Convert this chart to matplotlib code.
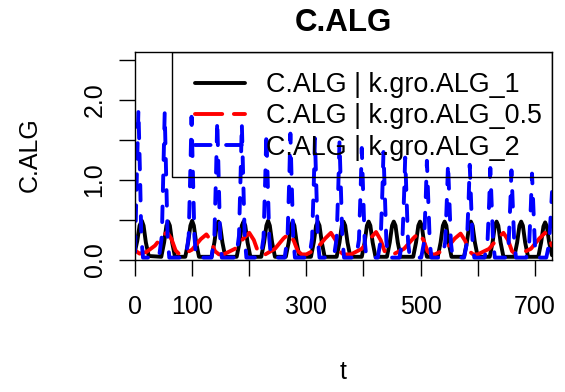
import matplotlib
matplotlib.use("Agg")
import matplotlib.pyplot as plt
from matplotlib.patches import Rectangle

plt.rcParams['font.family'] = ['Liberation Sans', 'DejaVu Sans']

# C.ALG time series for three algal growth rates
t_k1 = [0, 4, 8, 12, 15, 19, 24,
        46, 51, 55, 58, 61, 65, 70,
        88, 93, 97, 100, 103, 107, 112,
        134, 139, 143, 146, 149, 153, 158,
        178, 183, 187, 190, 193, 197, 202,
        221, 226, 230, 233, 236, 240, 245,
        264, 269, 273, 276, 279, 283, 288,
        308, 313, 317, 320, 323, 327, 332,
        353, 358, 362, 365, 368, 372, 377,
        397, 402, 406, 409, 412, 416, 421,
        441, 446, 450, 453, 456, 460, 465,
        487, 492, 496, 499, 502, 506, 511,
        530, 535, 539, 542, 545, 549, 554,
        576, 581, 585, 588, 591, 595, 600,
        621, 626, 630, 633, 636, 640, 645,
        664, 669, 673, 676, 679, 683, 688,
        706, 711, 715, 718, 721, 725, 730]
c_k1 = [0.11, 0.24, 0.43, 0.49, 0.43, 0.22, 0.05,
        0.04, 0.22, 0.43, 0.48, 0.43, 0.22, 0.04,
        0.04, 0.22, 0.43, 0.49, 0.43, 0.22, 0.04,
        0.04, 0.22, 0.43, 0.48, 0.43, 0.22, 0.04,
        0.04, 0.22, 0.43, 0.48, 0.43, 0.22, 0.04,
        0.04, 0.22, 0.43, 0.49, 0.43, 0.22, 0.04,
        0.04, 0.22, 0.43, 0.48, 0.43, 0.22, 0.04,
        0.04, 0.22, 0.43, 0.48, 0.43, 0.22, 0.04,
        0.04, 0.22, 0.43, 0.48, 0.43, 0.22, 0.04,
        0.04, 0.22, 0.43, 0.48, 0.43, 0.22, 0.04,
        0.04, 0.22, 0.43, 0.48, 0.43, 0.22, 0.04,
        0.04, 0.22, 0.43, 0.48, 0.43, 0.22, 0.04,
        0.04, 0.22, 0.43, 0.48, 0.43, 0.22, 0.04,
        0.04, 0.22, 0.43, 0.48, 0.43, 0.22, 0.04,
        0.04, 0.22, 0.43, 0.48, 0.43, 0.22, 0.04,
        0.04, 0.22, 0.43, 0.48, 0.43, 0.22, 0.04,
        0.04, 0.22, 0.42, 0.47, 0.42, 0.22, 0.06]

t_k05 = [0, 8, 20, 35, 46, 56, 64, 71, 78,
         84, 100, 115, 125, 133, 140, 147,
         155, 175, 190, 200, 208, 215, 222,
         228, 245, 260, 270, 278, 285, 292,
         300, 318, 333, 343, 351, 358, 365,
         378, 397, 412, 422, 430, 437, 444,
         452, 471, 487, 497, 505, 512, 519,
         525, 545, 560, 570, 578, 585, 592,
         600, 620, 635, 645, 653, 660, 667,
         673, 693, 708, 718, 726, 730]
c_k05 = [0.12, 0.08, 0.10, 0.18, 0.28, 0.35, 0.26, 0.12, 0.07,
         0.07, 0.13, 0.26, 0.32, 0.24, 0.11, 0.07,
         0.07, 0.14, 0.27, 0.34, 0.25, 0.11, 0.07,
         0.07, 0.14, 0.27, 0.33, 0.24, 0.11, 0.07,
         0.07, 0.14, 0.27, 0.34, 0.25, 0.11, 0.07,
         0.07, 0.14, 0.27, 0.35, 0.25, 0.11, 0.07,
         0.07, 0.14, 0.27, 0.34, 0.25, 0.11, 0.07,
         0.07, 0.14, 0.27, 0.33, 0.24, 0.11, 0.07,
         0.07, 0.14, 0.27, 0.34, 0.25, 0.11, 0.07,
         0.07, 0.14, 0.27, 0.34, 0.25, 0.18]

t_k2 = [0, 3, 6, 9, 11, 14,
        42, 47, 50, 52, 55, 57, 60,
        89, 94, 97, 99, 102, 104, 107,
        134, 139, 142, 144, 147, 149, 152,
        177, 182, 185, 187, 190, 192, 195,
        220, 225, 228, 230, 233, 235, 238,
        262, 267, 270, 272, 275, 277, 280,
        305, 310, 313, 315, 318, 320, 323,
        348, 353, 356, 358, 361, 363, 366,
        387, 392, 395, 397, 400, 402, 405,
        425, 430, 433, 435, 438, 440, 443,
        463, 468, 471, 473, 476, 478, 481,
        501, 506, 509, 511, 514, 516, 519,
        538, 543, 546, 548, 551, 553, 556,
        576, 581, 584, 586, 589, 591, 594,
        612, 617, 620, 622, 625, 627, 630,
        649, 654, 657, 659, 662, 664, 667,
        685, 690, 693, 695, 698, 700, 703,
        720, 725, 728, 730]
c_k2 = [0.10, 1.00, 1.88, 1.00, 0.30, 0.03,
        0.03, 0.30, 1.20, 1.84, 0.95, 0.30, 0.03,
        0.03, 0.30, 1.15, 1.79, 0.92, 0.30, 0.03,
        0.03, 0.30, 1.12, 1.75, 0.90, 0.30, 0.03,
        0.03, 0.30, 1.10, 1.71, 0.88, 0.30, 0.03,
        0.03, 0.28, 1.02, 1.60, 0.82, 0.28, 0.03,
        0.03, 0.28, 1.00, 1.58, 0.80, 0.28, 0.03,
        0.03, 0.27, 0.96, 1.52, 0.78, 0.27, 0.03,
        0.03, 0.27, 0.94, 1.48, 0.76, 0.27, 0.03,
        0.03, 0.25, 0.88, 1.40, 0.72, 0.25, 0.03,
        0.03, 0.24, 0.85, 1.35, 0.70, 0.24, 0.03,
        0.03, 0.23, 0.80, 1.28, 0.66, 0.23, 0.03,
        0.03, 0.22, 0.78, 1.24, 0.64, 0.22, 0.03,
        0.03, 0.22, 0.76, 1.21, 0.62, 0.22, 0.03,
        0.03, 0.21, 0.75, 1.19, 0.61, 0.21, 0.03,
        0.03, 0.21, 0.72, 1.15, 0.59, 0.21, 0.03,
        0.03, 0.20, 0.70, 1.12, 0.58, 0.20, 0.03,
        0.03, 0.20, 0.68, 1.08, 0.56, 0.20, 0.03,
        0.03, 0.20, 0.60, 0.85]

labels = ["C.ALG | k.gro.ALG_1", "C.ALG | k.gro.ALG_0.5", "C.ALG | k.gro.ALG_2"]
x_ticks = [0, 100, 200, 300, 400, 500, 600, 700]
x_ticklabels = ["0", "100", "", "300", "", "500", "", "700"]
y_ticks = [0.0, 0.5, 1.0, 1.5, 2.0, 2.5]
y_ticklabels = ["0.0", "", "1.0", "", "2.0", ""]

fig = plt.figure(figsize=(5.65, 3.92), dpi=100)
ax = fig.add_axes([135/565, 1-260/392, (552-135)/565, (260-52)/392])

lw = 2.8
ax.plot(t_k1, c_k1, color="black", lw=lw, solid_capstyle="round",
        solid_joinstyle="round", label=labels[0])
ax.plot(t_k05, c_k05, color="red", lw=lw, linestyle=(0, (7, 3)),
        dash_capstyle="round", dash_joinstyle="round", label=labels[1])
ax.plot(t_k2, c_k2, color="blue", lw=lw, linestyle=(0, (4, 4)),
        dash_capstyle="round", dash_joinstyle="round", label=labels[2])

ax.set_xlim(0, 730)
ax.set_ylim(0, 2.6)
ax.set_xticks(x_ticks)
ax.set_xticklabels(x_ticklabels)
ax.set_yticks(y_ticks)
ax.set_yticklabels(y_ticklabels, rotation=90, va="center")
ax.tick_params(direction="out", length=11.5, width=1.0, labelsize=18)
ax.tick_params(axis="x", pad=14)
ax.tick_params(axis="y", pad=9)
for s in ax.spines.values():
    s.set_linewidth(1.0)

ax.set_title("C.ALG", fontsize=22.5, fontweight="bold", pad=15)
fig.text(30/565, 1-155/392, "C.ALG", rotation=90, fontsize=18,
         ha="center", va="center")
fig.text(343/565, 1-372/392, "t", fontsize=18, ha="center", va="center")

# see-through legend box, R style: the spikes show through it
box = Rectangle((0.0887, 0.399), 1 - 0.0887, 1 - 0.399, transform=ax.transAxes,
                facecolor="none", edgecolor="black", lw=1.0, zorder=4)
ax.add_patch(box)
leg = ax.legend(loc="upper left", bbox_to_anchor=(0.1439, 0.904),
                borderaxespad=0, borderpad=0, frameon=False,
                fontsize=19.4, handlelength=1.85, handletextpad=0.8,
                labelspacing=0.2)

fig.savefig("out.png", dpi=100)
